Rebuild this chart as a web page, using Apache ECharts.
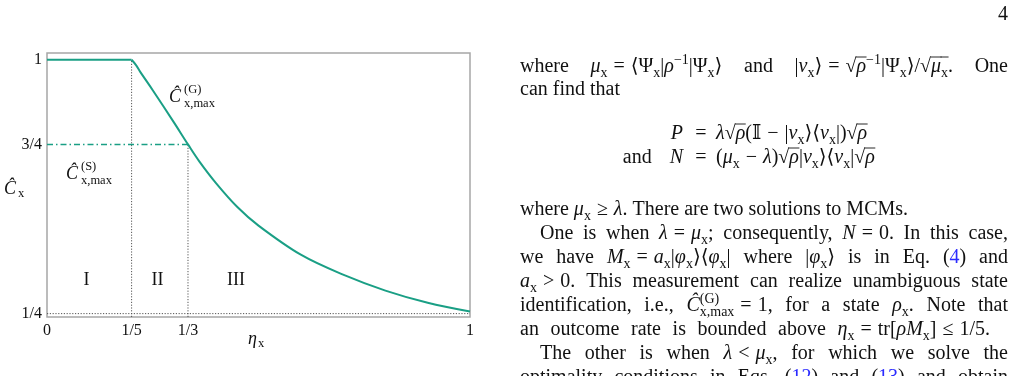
<!DOCTYPE html>
<html><head><meta charset="utf-8">
<script src="https://cdn.jsdelivr.net/npm/echarts@6/dist/echarts.min.js"></script>
<style>html,body{margin:0;padding:0;background:#fff}#c{width:1018px;height:376px}</style>
</head><body><div id="c"></div>
<script>
// ---------------- data ----------------
const etaValues = [0, 0.2, 0.21, 0.22, 0.25, 0.3, 0.3333, 0.36, 0.4, 0.45, 0.5, 0.6, 0.7, 0.8, 0.9, 1];
const cMaxG     = [1, 1, 0.985, 0.965, 0.91, 0.815, 0.75, 0.70, 0.635, 0.565, 0.51, 0.424, 0.365, 0.318, 0.282, 0.256];
const regionBounds = [0.2, 0.3333];      // eta = 1/5 and 1/3
const levelS = 0.75;                     // C^(S)_max
const floorLevel = 0.25;                 // 1/4
const xTickValues = [0, 0.2, 0.3333, 1];
const xTickLabels = ['0', '1/5', '1/3', '1'];
const yTickValues = [0.25, 0.75, 1];
const yTickLabels = ['1/4', '3/4', '1'];
const regionNames = ['I', 'II', 'III'];
const yAxisMin = 0.24, yAxisMax = 1.02;

// ---------------- styling ----------------
const FAM = "'Liberation Serif','DejaVu Serif','DejaVu Sans',serif";
const GREEN = '#1a9f85';
const GUIDE = '#555555';
const INK = '#111111';

function labelFor(values, labels) {
  return function (v) {
    for (let i = 0; i < values.length; i++) if (Math.abs(v - values[i]) < 1e-6) return labels[i];
    return '';
  };
}

const plateau = [], curve = [];
etaValues.forEach((e, i) => {
  if (e <= regionBounds[0]) plateau.push([e, cMaxG[i]]);
  if (e >= regionBounds[0]) curve.push([e, cMaxG[i]]);
});

const chart = echarts.init(document.getElementById('c'), null, {renderer: 'canvas'});

const guide = (data, type, color, width) => ({
  type: 'line', data, symbol: 'none', silent: true, z: 1,
  lineStyle: {color, width, type}, animation: false
});

const option = {
  animation: false,
  backgroundColor: '#ffffff',
  grid: {left: 47, top: 53, width: 423, height: 264, show: true, borderColor: '#a6a6a6', borderWidth: 1.5, backgroundColor: 'transparent'},
  xAxis: {
    type: 'value', min: 0, max: 1,
    axisLine: {show: false}, axisTick: {show: false}, splitLine: {show: false},
    axisLabel: {customValues: xTickValues, formatter: labelFor(xTickValues, xTickLabels),
      fontFamily: FAM, fontSize: 16, color: INK, margin: 6}
  },
  yAxis: {
    type: 'value', min: yAxisMin, max: yAxisMax,
    axisLine: {show: false}, axisTick: {show: false}, splitLine: {show: false},
    axisLabel: {customValues: yTickValues, formatter: labelFor(yTickValues, yTickLabels),
      fontFamily: FAM, fontSize: 16, color: INK, margin: 5}
  },
  series: [
    guide([[regionBounds[0], yAxisMin], [regionBounds[0], cMaxG[1]]], [1.2, 1.6], GUIDE, 1),
    guide([[regionBounds[1], yAxisMin], [regionBounds[1], levelS]], [1.2, 1.6], GUIDE, 1),
    guide([[0, floorLevel], [1, floorLevel]], [1.2, 1.6], GUIDE, 1),
    guide([[0, levelS], [regionBounds[1], levelS]], [6, 3, 1.5, 3], GREEN, 1.5),
    {type: 'line', data: plateau, symbol: 'none', silent: true, z: 3, lineStyle: {color: GREEN, width: 2}},
    {type: 'line', data: curve, symbol: 'none', smooth: 0.35, silent: true, z: 3, lineStyle: {color: GREEN, width: 2}}
  ],
  graphic: []
};

// ---------------- text helpers ----------------
const ctx = document.createElement('canvas').getContext('2d');
const BODY = 20, SUB = 14;
const ST = {
  n: {size: BODY, it: false, dy: 0},
  m: {size: BODY, it: false, dy: 0},
  i: {size: BODY, it: true, dy: 0},
  r: {size: BODY, it: true, dy: 0, over: true},
  s: {size: SUB, it: false, dy: 6},
  rs: {size: SUB, it: false, dy: 6, over: true},
  p: {size: SUB, it: false, dy: -6.5},
  pk: {size: SUB, it: false, dy: -7, keep: true},
  b: {size: BODY, it: false, dy: 0, color: '#2b2bff'}
};
const cssFont = st => (st.it ? 'italic ' : '') + st.size + 'px ' + FAM;
const G = option.graphic;

function txt(x, y, text, font, color, align) {
  G.push({type: 'text', x, y, silent: true, z: 10,
    style: {x: 0, y: 0, text, font, fill: color || INK, textAlign: align || 'left', align: align || 'left',
      textVerticalAlign: 'middle', verticalAlign: 'middle'}});
}

function tokens(runs) {
  const toks = [];
  runs.forEach(([k, t]) => {
    const st = ST[k];
    if (k === 'n' || k === 'b') {
      t.split(/( )/).forEach(p => { if (p !== '') toks.push({st, t: p, space: p === ' '}); });
    } else if (k === 'm') {
      // math spacing: fixed medium/thick spaces that do not stretch
      t.split(/( )/).forEach(p => { if (p !== '') toks.push({st, t: p, mspace: p === ' '}); });
    } else toks.push({st, t});
  });
  let pending = 0;
  toks.forEach(tk => {
    ctx.font = cssFont(tk.st);
    tk.w = tk.mspace ? 0.3 * tk.st.size : ctx.measureText(tk.t).width;
    if (tk.st.keep) { tk.adv = 0; pending = tk.w; }
    else { tk.adv = Math.max(tk.w, pending); pending = 0; }
  });
  return toks;
}

function layout(line) {
  const toks = tokens(line.runs);
  const natural = toks.reduce((a, t) => a + t.adv, 0);
  const nsp = toks.filter(t => t.space).length;
  const extra = line.justify && nsp ? (line.width - natural) / nsp : 0;
  let x = line.right !== undefined ? line.right - natural : line.x;
  toks.forEach(tk => {
    if (tk.space) { x += tk.adv + extra; return; }
    if (tk.mspace) { x += tk.adv; return; }
    txt(x, line.y + tk.st.dy, tk.t, cssFont(tk.st), tk.st.color, 'left');
    if (tk.st.over) {
      G.push({type: 'line', silent: true, z: 10,
        shape: {x1: x - 0.5, y1: line.y - 10, x2: x + tk.w + 0.5, y2: line.y - 10},
        style: {stroke: INK, lineWidth: 0.9}});
    }
    x += tk.adv;
  });
}

// ---------------- chart annotations ----------------
const LBL = 18, LSUB = 12.5;
const fBig = 'italic ' + LBL + 'px ' + FAM, fSub = LSUB + 'px ' + FAM, fRoman = LBL + 'px ' + FAM;
// C^(G)_{x,max}
txt(169, 97, 'Ĉ', fBig); txt(184, 90, '(G)', fSub); txt(184, 104, 'x,max', fSub);
// C^(S)_{x,max}
txt(66, 174, 'Ĉ', fBig); txt(81, 167, '(S)', fSub); txt(81, 181, 'x,max', fSub);
// y-axis name
txt(4, 189, 'Ĉ', fBig); txt(18, 194, 'x', fSub);
// x-axis name
txt(248, 339, 'η', fBig); txt(258, 344, 'x', fSub);
// regions
txt(86.5, 280, regionNames[0], fRoman, INK, 'center');
txt(157.5, 280, regionNames[1], fRoman, INK, 'center');
txt(236, 280, regionNames[2], fRoman, INK, 'center');

// ---------------- right-hand text column ----------------
txt(1008, 15, '4', BODY + 'px ' + FAM, INK, 'right');
const L = 520, W = 488, LI = 540, WI = 468;
const lines = [
  {x: L, y: 67, width: W, justify: true, runs: [['n','where '],['i','μ'],['s','x'],['m',' = ⟨Ψ'],['s','x'],['m','|'],['i','ρ'],['p','−1'],['m','|Ψ'],['s','x'],['m','⟩'],['n',' and '],['m','|'],['i','v'],['s','x'],['m','⟩ = √'],['r','ρ'],['p','−1'],['m','|Ψ'],['s','x'],['m','⟩/√'],['r','μ'],['rs','x'],['n','. One']]},
  {x: L, y: 90, runs: [['n','can find that']]},
  {right: 683, y: 134, runs: [['i','P']]},
  {x: 716, y: 134, runs: [['i','λ'],['m','√'],['r','ρ'],['m','(𝕀 − |'],['i','v'],['s','x'],['m','⟩⟨'],['i','v'],['s','x'],['m','|)√'],['r','ρ']]},
  {right: 683, y: 158, runs: [['m','and   '],['i','N']]},
  {x: 716, y: 158, runs: [['m','('],['i','μ'],['s','x'],['m',' − '],['i','λ'],['m',')√'],['r','ρ'],['m','|'],['i','v'],['s','x'],['m','⟩⟨'],['i','v'],['s','x'],['m','|√'],['r','ρ']]},
  {x: L, y: 210, runs: [['n','where '],['i','μ'],['s','x'],['m',' ≥ '],['i','λ'],['n','. There are two solutions to MCMs.']]},
  {x: LI, y: 234, width: WI, justify: true, runs: [['n','One is when '],['i','λ'],['m',' = '],['i','μ'],['s','x'],['n','; consequently, '],['i','N'],['m',' = 0'],['n','. In this case,']]},
  {x: L, y: 258, width: W, justify: true, runs: [['n','we have '],['i','M'],['s','x'],['m',' = '],['i','a'],['s','x'],['m','|'],['i','φ'],['s','x'],['m','⟩⟨'],['i','φ'],['s','x'],['m','|'],['n',' where '],['m','|'],['i','φ'],['s','x'],['m','⟩'],['n',' is in Eq. ('],['b','4'],['n',') and']]},
  {x: L, y: 282, width: W, justify: true, runs: [['i','a'],['s','x'],['m',' > 0'],['n','. This measurement can realize unambiguous state']]},
  {x: L, y: 306, width: W, justify: true, runs: [['n','identification, i.e., '],['i','Ĉ'],['pk','(G)'],['s','x,max'],['m',' = 1'],['n',', for a state '],['i','ρ'],['s','x'],['n','. Note that']]},
  {x: L, y: 330, width: 470, justify: true, runs: [['n','an outcome rate is bounded above '],['i','η'],['s','x'],['m',' = tr['],['i','ρM'],['s','x'],['m','] ≤ 1/5'],['n','.']]},
  {x: LI, y: 354, width: WI, justify: true, runs: [['n','The other is when '],['i','λ'],['m',' < '],['i','μ'],['s','x'],['n',', for which we solve the']]},
  {x: L, y: 378, width: W, justify: true, runs: [['n','optimality conditions in Eqs. ('],['b','12'],['n',') and ('],['b','13'],['n',') and obtain']]}
];
lines.forEach(layout);
// equals signs of the aligned equations
txt(701, 134, '=', BODY + 'px ' + FAM, INK, 'center');
txt(701, 158, '=', BODY + 'px ' + FAM, INK, 'center');

chart.setOption(option);
</script>
</body></html>
